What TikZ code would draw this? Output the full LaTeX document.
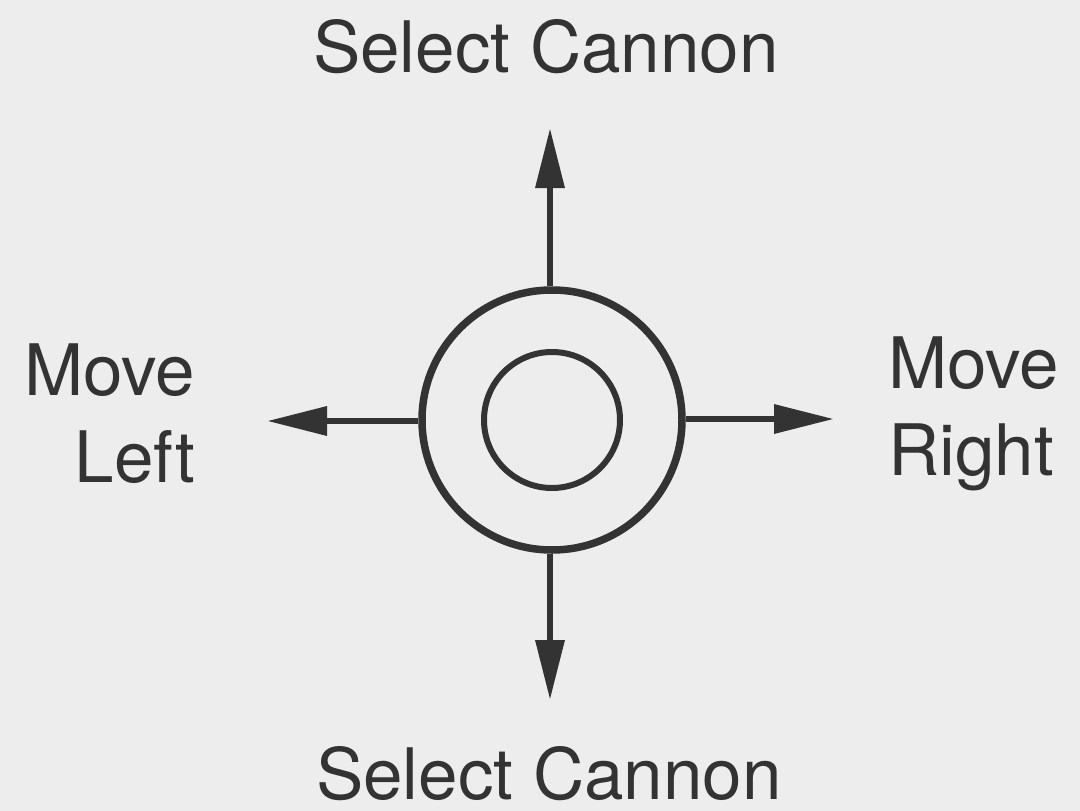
\documentclass[tikz,border=0pt]{standalone}
\usepackage{fontspec}
\setmainfont{TeX Gyre Heros}
\usetikzlibrary{arrows.meta}
\definecolor{bg}{HTML}{EDEDED}
\definecolor{ink}{HTML}{333333}
\tikzset{
  lbl/.style={font=\fontsize{71}{87}\selectfont, text=ink, inner sep=0pt},
  ring/.style={circle, draw=ink, line width=7.5pt, inner sep=0pt},
  arr/.style={draw=ink, line width=6.5pt, -{Triangle[length=60pt,width=28pt]}}
}
\begin{document}
\begin{tikzpicture}[x=1pt,y=-1pt]
\fill[bg] (0,0) rectangle (1080,811);
\useasboundingbox (0,0) rectangle (1080,811);
\node[ring, minimum size=260pt] (outer) at (552,420) {};
\node[ring, line width=6pt, minimum size=136pt] (inner) at (552,420) {};
\coordinate (tu) at (550,128);
\coordinate (td) at (550,700);
\coordinate (tl) at (267,421);
\coordinate (tr) at (834,419);
\draw[arr] (outer.north -| tu) -- (tu);
\draw[arr] (outer.south -| td) -- (td);
\draw[arr] (outer.west |- tl) -- (tl);
\draw[arr] (outer.east |- tr) -- (tr);
\node[lbl, anchor=base] (top) at (546,72) {Select Cannon};
\node[lbl, anchor=base, text depth=0pt] (bot) at (549,799) {Select Cannon};
\node[lbl, anchor=base east, align=right] (left) at (195,482) {Move\\Left};
\node[lbl, anchor=base west, align=left] (right) at (888,475) {Move\\Right};
\end{tikzpicture}
\end{document}
